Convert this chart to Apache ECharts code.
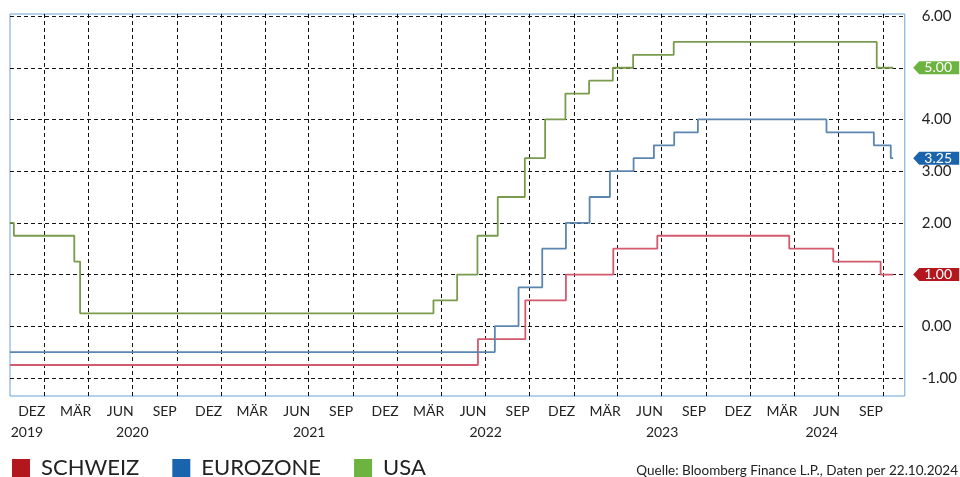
<!DOCTYPE html>
<html>
<head>
<meta charset="utf-8">
<script src="https://cdn.jsdelivr.net/npm/echarts@6/dist/echarts.min.js"></script>
<style>
  html, body { margin: 0; padding: 0; background: #fff; }
  #chart { width: 960px; height: 477px; }
</style>
</head>
<body>
<div id="chart"></div>
<script>
// Leitzinsen (Datum der Zinsentscheide)
var axisStart = '2019-10-22';
var axisEnd = '2024-11-15';

var schweizDates = ['2019-10-22', '2022-06-16', '2022-09-22', '2022-12-15', '2023-03-23', '2023-06-22', '2024-03-21', '2024-06-20', '2024-09-26', '2024-10-22'];
var schweizValues = [-0.75, -0.25, 0.5, 1.0, 1.5, 1.75, 1.5, 1.25, 1.0, 1.0];

var euroDates = ['2019-10-22', '2022-07-21', '2022-09-08', '2022-10-27', '2022-12-15', '2023-02-02', '2023-03-16', '2023-05-04', '2023-06-15', '2023-07-27', '2023-09-14', '2024-06-06', '2024-09-12', '2024-10-17', '2024-10-22'];
var euroValues = [-0.5, 0, 0.75, 1.5, 2.0, 2.5, 3.0, 3.25, 3.5, 3.75, 4.0, 3.75, 3.5, 3.25, 3.25];

var usaDates = ['2019-10-22', '2019-10-30', '2020-03-03', '2020-03-15', '2022-03-16', '2022-05-04', '2022-06-15', '2022-07-27', '2022-09-21', '2022-11-02', '2022-12-14', '2023-02-01', '2023-03-22', '2023-05-03', '2023-07-26', '2024-09-18', '2024-10-22'];
var usaValues = [2.0, 1.75, 1.25, 0.25, 0.5, 1.0, 1.75, 2.5, 3.25, 4.0, 4.5, 4.75, 5.0, 5.25, 5.5, 5.0, 5.0];

// Achsenbeschriftung
var quarterTicks = ['2020-01-01', '2020-04-01', '2020-07-01', '2020-10-01', '2021-01-01', '2021-04-01', '2021-07-01', '2021-10-01',
  '2022-01-01', '2022-04-01', '2022-07-01', '2022-10-01', '2023-01-01', '2023-04-01', '2023-07-01', '2023-10-01',
  '2024-01-01', '2024-04-01', '2024-07-01', '2024-10-01'];
var monthLabelDates = ['2019-12-06', '2020-03-06', '2020-06-06', '2020-09-06', '2020-12-06', '2021-03-06', '2021-06-06', '2021-09-06',
  '2021-12-06', '2022-03-06', '2022-06-06', '2022-09-06', '2022-12-06', '2023-03-06', '2023-06-06', '2023-09-06',
  '2023-12-06', '2024-03-06', '2024-06-06', '2024-09-06'];
var monthLabels = ['DEZ', 'MÄR', 'JUN', 'SEP', 'DEZ', 'MÄR', 'JUN', 'SEP', 'DEZ', 'MÄR', 'JUN', 'SEP',
  'DEZ', 'MÄR', 'JUN', 'SEP', 'DEZ', 'MÄR', 'JUN', 'SEP'];
var yearLabelDates = ['2019-11-26', '2020-07-01', '2021-07-02', '2022-07-02', '2023-07-02', '2024-05-27'];
var yearLabels = ['2019', '2020', '2021', '2022', '2023', '2024'];
var yTicks = [-1, 0, 1, 2, 3, 4, 5, 6];

function ts(s) {
  var p = s.split('-');
  return Date.UTC(+p[0], +p[1] - 1, +p[2]);
}
function pairs(dates, values) {
  return dates.map(function (d, i) { return [ts(d), values[i]]; });
}

var monthByTime = {};
monthLabelDates.forEach(function (d, i) { monthByTime[ts(d)] = monthLabels[i]; });
var yearByTime = {};
yearLabelDates.forEach(function (d, i) { yearByTime[ts(d)] = yearLabels[i]; });

var FONT = 'Lato, "Open Sans", sans-serif';
var gridDash = { color: '#111', width: 1, type: [4, 3] };

function tag(dates, values, color) {
  var n = dates.length - 1;
  return {
    silent: true,
    symbol: 'path://M0,6.5L6,0L46,0L46,13L6,13Z',
    symbolSize: [46, 13],
    symbolOffset: [43, 0],
    itemStyle: { color: color },
    label: {
      show: true, color: '#fff', fontSize: 14, fontFamily: FONT, offset: [2, 0],
      formatter: function (p) { return p.value.toFixed(2); }
    },
    data: [{ coord: [ts(dates[n]), values[n]], value: values[n] }]
  };
}

function makeSeries(name, dates, values, color, lineColor) {
  return {
    name: name,
    type: 'line',
    step: 'end',
    showSymbol: false,
    symbol: 'none',
    color: color,
    lineStyle: { color: lineColor, width: 1.8 },
    data: pairs(dates, values),
    markPoint: tag(dates, values, color)
  };
}

var myChart = echarts.init(document.getElementById('chart'));
myChart.setOption({
  animation: false,
  grid: {
    left: 10, top: 14, right: 51, bottom: 81,
    show: true, borderColor: '#6aa3d8', borderWidth: 1, backgroundColor: '#fff'
  },
  legend: {
    left: 12, top: 457, padding: 0,
    icon: 'rect', itemWidth: 18, itemHeight: 18, itemGap: 33,
    itemStyle: { borderWidth: 0 },
    textStyle: { fontSize: 22, color: '#222', fontFamily: FONT, padding: [0, 0, 0, 6] },
    data: ['SCHWEIZ', 'EUROZONE', 'USA']
  },
  xAxis: [{
    type: 'value',
    min: ts(axisStart), max: ts(axisEnd),
    axisLine: { show: false },
    axisTick: { show: false, customValues: quarterTicks.map(ts) },
    splitLine: { show: true, lineStyle: gridDash },
    axisLabel: {
      customValues: monthLabelDates.map(ts),
      margin: 8, fontSize: 14, color: '#222', fontFamily: FONT,
      formatter: function (v) { return monthByTime[v] || ''; }
    }
  }, {
    type: 'value',
    position: 'bottom',
    min: ts(axisStart), max: ts(axisEnd),
    axisLine: { show: false },
    axisTick: { show: false, customValues: yearLabelDates.map(ts) },
    splitLine: { show: false },
    axisLabel: {
      customValues: yearLabelDates.map(ts),
      margin: 29, fontSize: 14, color: '#222', fontFamily: FONT,
      formatter: function (v) { return yearByTime[v] || ''; }
    }
  }],
  yAxis: {
    type: 'value',
    position: 'right',
    min: -1.35, max: 6.04,
    axisLine: { show: false },
    axisTick: { show: false, customValues: yTicks },
    splitLine: { show: true, lineStyle: gridDash },
    axisLabel: {
      customValues: yTicks,
      margin: 17, fontSize: 15, color: '#222', fontFamily: FONT,
      formatter: function (v) { return v.toFixed(2); }
    }
  },
  graphic: [{
    type: 'text',
    right: 2, top: 464,
    style: {
      text: 'Quelle: Bloomberg Finance L.P., Daten per 22.10.2024',
      font: '13.5px ' + FONT, fill: '#222'
    }
  }],
  series: [
    makeSeries('SCHWEIZ', schweizDates, schweizValues, '#b3161c', '#d35a6e'),
    makeSeries('EUROZONE', euroDates, euroValues, '#1a63ad', '#5b86b0'),
    makeSeries('USA', usaDates, usaValues, '#6db33f', '#789b4c')
  ]
});

window.addEventListener('resize', function () {
  myChart.resize();
});
</script>
</body>
</html>
